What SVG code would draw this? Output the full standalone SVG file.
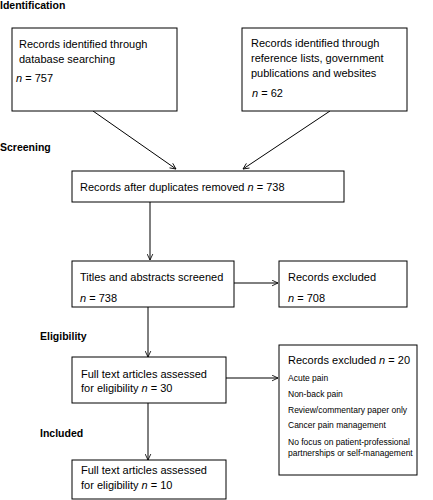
<svg xmlns="http://www.w3.org/2000/svg" width="433" height="500" viewBox="0 0 433 500">
<style>
.bg{fill:#fff}
.box{fill:#fff;stroke:#000;stroke-width:1}
.t{font-family:"Liberation Sans",Arial,sans-serif;font-size:11px;fill:#000}
.s{font-family:"Liberation Sans",Arial,sans-serif;font-size:8.5px;fill:#000}
.h{font-family:"Liberation Sans",Arial,sans-serif;font-size:10.5px;font-weight:bold;fill:#000}
.i{font-style:italic}
.c{fill:none;stroke:#000;stroke-width:1}
</style>
<defs>
<marker id="ah" viewBox="0 0 10 10" refX="9.5" refY="5" markerWidth="7" markerHeight="7" markerUnits="userSpaceOnUse" orient="auto">
<path d="M1,1 L9.5,5 L1,9" fill="none" stroke="#000" stroke-width="1.2"/>
</marker>
</defs>
<rect class="bg" x="0" y="0" width="433" height="500"/>
<g id="labels">
<text class="h" x="0" y="9">Identification</text>
<text class="h" x="0" y="151">Screening</text>
<text class="h" x="40" y="340">Eligibility</text>
<text class="h" x="40" y="437">Included</text>
</g>
<g id="connectors">
<line class="c" x1="93" y1="111" x2="176" y2="169" marker-end="url(#ah)"/>
<line class="c" x1="330" y1="111" x2="243" y2="169" marker-end="url(#ah)"/>
<line class="c" x1="150" y1="202" x2="150" y2="260" marker-end="url(#ah)"/>
<line class="c" x1="234" y1="283" x2="278" y2="283" marker-end="url(#ah)"/>
<line class="c" x1="148" y1="307" x2="148" y2="357" marker-end="url(#ah)"/>
<line class="c" x1="226" y1="378" x2="278" y2="378" marker-end="url(#ah)"/>
<line class="c" x1="148" y1="403" x2="148" y2="460" marker-end="url(#ah)"/>
</g>
<g id="n1">
<rect class="box" x="12" y="28" width="165" height="83"/>
<text class="t" x="19" y="48">Records identified through</text>
<text class="t" x="19" y="63">database searching</text>
<text class="t" x="16" y="82"><tspan class="i">n</tspan> = 757</text>
</g>
<g id="n2">
<rect class="box" x="242" y="28" width="165" height="83"/>
<text class="t" x="251" y="47">Records identified through</text>
<text class="t" x="251" y="62">reference lists, government</text>
<text class="t" x="251" y="77">publications and websites</text>
<text class="t" x="252" y="97"><tspan class="i">n</tspan> = 62</text>
</g>
<g id="n3">
<rect class="box" x="72" y="171" width="272" height="31"/>
<text class="t" x="80" y="191">Records after duplicates removed <tspan class="i">n</tspan> = 738</text>
</g>
<g id="n4">
<rect class="box" x="72" y="261" width="162" height="46"/>
<text class="t" x="80" y="281">Titles and abstracts screened</text>
<text class="t" x="80" y="302"><tspan class="i">n</tspan> = 738</text>
</g>
<g id="n5">
<rect class="box" x="279" y="261" width="128" height="46"/>
<text class="t" x="288" y="281">Records excluded</text>
<text class="t" x="288" y="302"><tspan class="i">n</tspan> = 708</text>
</g>
<g id="n6">
<rect class="box" x="72" y="357" width="154" height="46"/>
<text class="t" x="81" y="378">Full text articles assessed</text>
<text class="t" x="81" y="392">for eligibility <tspan class="i">n</tspan> = 30</text>
</g>
<g id="n7">
<rect class="box" x="279" y="345" width="138" height="130"/>
<text class="t" x="288" y="364">Records excluded <tspan class="i">n</tspan> = 20</text>
<text class="s" x="288" y="381">Acute pain</text>
<text class="s" x="288" y="397">Non-back pain</text>
<text class="s" x="288" y="413">Review/commentary paper only</text>
<text class="s" x="288" y="428">Cancer pain management</text>
<text class="s" x="288" y="445">No focus on patient-professional</text>
<text class="s" x="288" y="456">partnerships or self-management</text>
</g>
<g id="n8">
<rect class="box" x="72" y="460" width="154" height="39"/>
<text class="t" x="81" y="474">Full text articles assessed</text>
<text class="t" x="81" y="489">for eligibility <tspan class="i">n</tspan> = 10</text>
</g>
</svg>
